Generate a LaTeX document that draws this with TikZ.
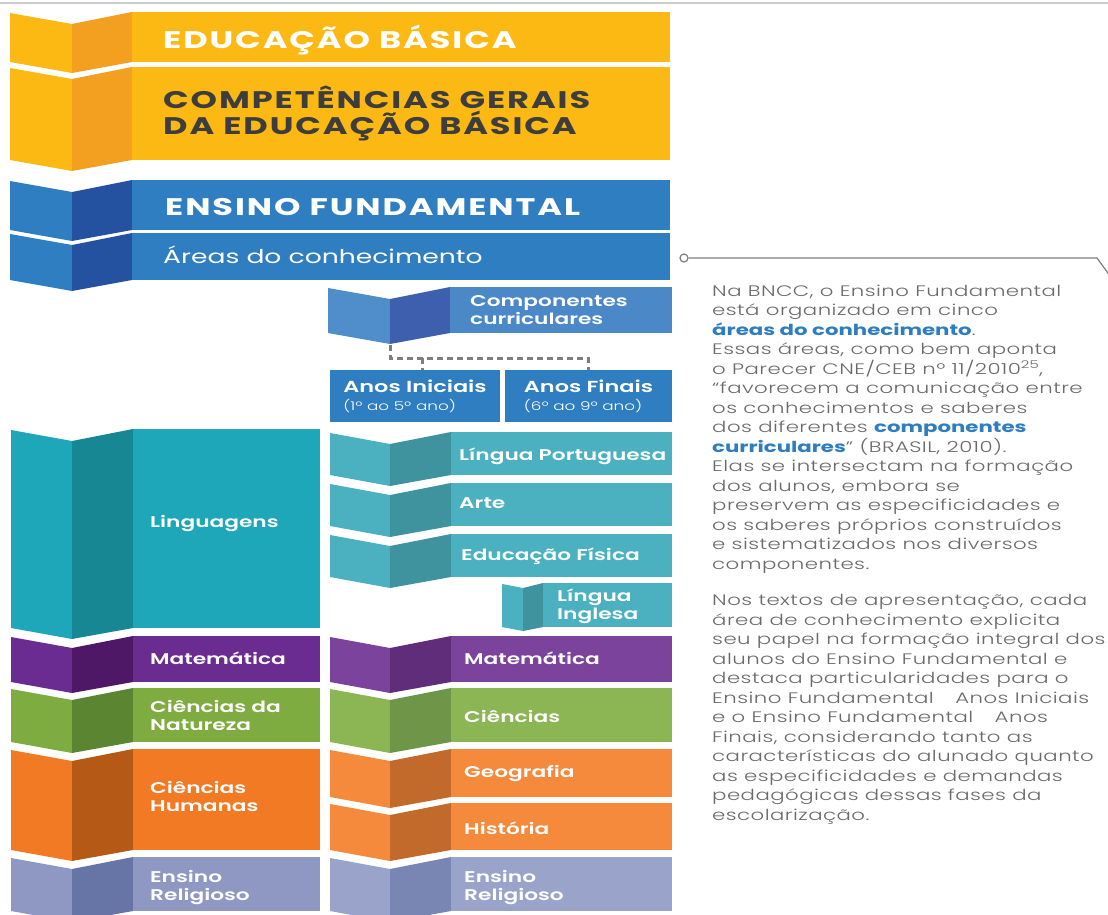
\documentclass[tikz,border=0pt]{standalone}
\usepackage{fontspec}
\setmainfont{Poppins}[FakeStretch=1.4]
\newfontfamily\lightfont{Poppins Light}[FakeStretch=1.4]
\newfontfamily\semifont{Poppins SemiBold}[FakeStretch=1.4]
\usetikzlibrary{calc}
\definecolor{yelM}{HTML}{FDB913}\definecolor{yelD}{HTML}{F3A021}
\definecolor{bluM}{HTML}{2F7EC1}\definecolor{bluD}{HTML}{2452A1}
\definecolor{cmpM}{HTML}{4A88C8}\definecolor{cmpD}{HTML}{3D5FAE}\definecolor{cmpL}{HTML}{4F8DCB}
\definecolor{teaM}{HTML}{1DA7B8}\definecolor{teaD}{HTML}{178793}
\definecolor{tebM}{HTML}{4BB0C0}\definecolor{tebD}{HTML}{3F939E}
\definecolor{purM}{HTML}{6A2C91}\definecolor{purD}{HTML}{4F1867}
\definecolor{pubM}{HTML}{7B439B}\definecolor{pubD}{HTML}{602D7B}
\definecolor{grnM}{HTML}{7FAC41}\definecolor{grnD}{HTML}{5B8531}
\definecolor{grbM}{HTML}{8CB654}\definecolor{grbD}{HTML}{6F9548}
\definecolor{orgM}{HTML}{F37A25}\definecolor{orgD}{HTML}{B55917}
\definecolor{orbM}{HTML}{F58A3C}\definecolor{orbD}{HTML}{C16A2C}
\definecolor{lavM}{HTML}{8F97C3}\definecolor{lavD}{HTML}{6674A6}
\definecolor{lvbM}{HTML}{9AA3CA}\definecolor{lvbD}{HTML}{7985B3}
\definecolor{titlegray}{HTML}{3D3D3D}
\definecolor{bodygray}{HTML}{6A6A6A}
\definecolor{hiblue}{HTML}{2D7DC1}
\definecolor{linegray}{HTML}{7E7E7E}
\def\rdip{12}
% x0 x1 x2 x3 ytop ybot light dark main
\newcommand\ribbon[9]{%
  \fill[#7] (#1,#5+1) -- (#2,#5+\rdip) -- (#2,#6+\rdip-1) -- (#1,#6) -- cycle;
  \fill[#8] (#2,#5+\rdip) -- (#3,#5) -- (#3,#6) -- (#2,#6+\rdip-1) -- cycle;
  \fill[#9] (#3,#5) rectangle (#4,#6);}
\newcommand\hl[1]{\textcolor{hiblue}{\normalfont\bfseries #1}}
\newcommand\subsz{\lightfont\fontsize{12}{14}\selectfont}
\begin{document}
\begin{tikzpicture}[x=1pt,y=-1pt,
  ttl/.style={anchor=west, inner sep=0, text=white, align=left, font=\bfseries\fontsize{24}{26}\selectfont\addfontfeature{LetterSpace=8}},
  lbl/.style={anchor=west, inner sep=0, text=white, align=left, font=\semifont\fontsize{15.5}{18}\selectfont},
  anos/.style={fill=bluM, minimum width=#1, minimum height=52, inner sep=0, text=white, align=left, font=\semifont\fontsize{16}{18}\selectfont},
  body/.style={anchor=north west, inner sep=0, align=left, text=bodygray, font=\lightfont\fontsize{15.2}{19.5}\selectfont\addfontfeature{LetterSpace=3}},
  dash line/.style={draw=linegray, line width=3, dash pattern=on 6 off 4},
  callout/.style={draw=linegray, line width=1.2}]
\useasboundingbox (0,0) rectangle (1108,915);
\fill[white] (0,0) rectangle (1108,915);
\draw[draw=black!20, line width=1.5] (0,3) -- (1108,3);

% top bands
\ribbon{10}{72}{132}{670}{12}{62}{yelM}{yelD}{yelM}
\ribbon{10}{72}{132}{670}{67}{160}{yelM}{yelD}{yelM}
\ribbon{10}{72}{132}{670}{180}{230}{bluM}{bluD}{bluM}
\ribbon{10}{72}{132}{670}{233}{280}{bluM}{bluD}{bluM}
\node[ttl] (edu) at (163,40) {EDUCAÇÃO BÁSICA};
\node[ttl, text=titlegray] (comp) at (163,113) {COMPETÊNCIAS GERAIS\\DA EDUCAÇÃO BÁSICA};
\node[ttl] (ef) at (165,207) {ENSINO FUNDAMENTAL};
\node[anchor=west, inner sep=0, text=white, font=\fontsize{19}{21}\selectfont] (areas) at (163,255) {Áreas do conhecimento};

% componentes curriculares
\ribbon{328}{390}{450}{672}{287}{333}{cmpL}{cmpD}{cmpM}
\node[lbl] (cc) at (470,310.5) {Componentes\\curriculares};
\node[anos=170] (ai) at (415,396) {Anos Iniciais\\{\subsz (1º ao 5º ano)}};
\node[anos=167] (af) at (588.5,396) {Anos Finais\\{\subsz (6º ao 9º ano)}};
\coordinate (cdip) at (390,345);
\coordinate (jn) at (422,358);
\draw[dash line] (cdip) |- (af.north |- jn) -- (af.north);
\draw[dash line] (jn) -- (jn |- ai.north);

% left column
\ribbon{11}{72}{133}{320}{429}{628}{teaM}{teaD}{teaM}
\ribbon{11}{72}{133}{320}{636}{682}{purM}{purD}{purM}
\ribbon{11}{72}{133}{320}{688}{742}{grnM}{grnD}{grnM}
\ribbon{11}{72}{133}{320}{749}{850}{orgM}{orgD}{orgM}
\ribbon{11}{72}{133}{320}{857}{911}{lavM}{lavD}{lavM}
\node[lbl] (lin) at (150,524) {Linguagens};
\node[lbl] (mat) at (150,658) {Matemática};
\node[lbl] (cn) at (150,715) {Ciências da\\Natureza};
\node[lbl] (ch) at (150,796) {Ciências\\Humanas};
\node[lbl] (er) at (150,887.5) {Ensino\\Religioso};

% right column
\ribbon{330}{390}{451}{672}{432}{475}{tebM}{tebD}{tebM}
\ribbon{330}{390}{451}{672}{483}{526}{tebM}{tebD}{tebM}
\ribbon{330}{390}{451}{672}{534}{577}{tebM}{tebD}{tebM}
\def\rdip{5}
\ribbon{502}{523}{543}{672}{583}{627}{tebM}{tebD}{tebM}
\def\rdip{12}
\ribbon{330}{390}{451}{672}{636}{682}{pubM}{pubD}{pubM}
\ribbon{330}{390}{451}{672}{688}{742}{grbM}{grbD}{grbM}
\ribbon{330}{390}{451}{672}{749}{797}{orbM}{orbD}{orbM}
\ribbon{330}{390}{451}{672}{803}{850}{orbM}{orbD}{orbM}
\ribbon{330}{390}{451}{672}{857}{911}{lvbM}{lvbD}{lvbM}
\node[lbl] (lp) at (459,456) {Língua Portuguesa};
\node[lbl] (ar) at (459,503) {Arte};
\node[lbl] (edf) at (461,556) {Educação Física};
\node[lbl] (li) at (557,606) {Língua\\Inglesa};
\node[lbl] (mat2) at (464,658) {Matemática};
\node[lbl] (cie) at (464,716) {Ciências};
\node[lbl] (geo) at (464,774) {Geografia};
\node[lbl] (his) at (464,828) {História};
\node[lbl] (er2) at (464,887.5) {Ensino\\Religioso};

% callout
\node[circle, draw=linegray, fill=white, line width=1.2, minimum size=8, inner sep=0] (dot) at (684,258) {};
\coordinate (bend) at (1097,258);
\coordinate (tail) at (1113,280);
\draw[callout] (dot.east) -- (bend) -- (tail);

% text
\node[body] (p1) at (712,284.5) {Na BNCC, o Ensino Fundamental\\
está organizado em cinco\\
\hl{áreas do conhecimento}.\\
Essas áreas, como bem aponta\\
o Parecer CNE/CEB nº 11/2010\textsuperscript{25},\\
“favorecem a comunicação entre\\
os conhecimentos e saberes\\
dos diferentes \hl{componentes}\\
\hl{curriculares}” (BRASIL, 2010).\\
Elas se intersectam na formação\\
dos alunos, embora se\\
preservem as especificidades e\\
os saberes próprios construídos\\
e sistematizados nos diversos\\
componentes.};
\node[body] (p2) at (712,594.5) {Nos textos de apresentação, cada\\
área de conhecimento explicita\\
seu papel na formação integral dos\\
alunos do Ensino Fundamental e\\
destaca particularidades para o\\
Ensino Fundamental \quad Anos Iniciais\\
e o Ensino Fundamental \quad Anos\\
Finais, considerando tanto as\\
características do alunado quanto\\
as especificidades e demandas\\
pedagógicas dessas fases da\\
escolarização.};
\end{tikzpicture}
\end{document}
